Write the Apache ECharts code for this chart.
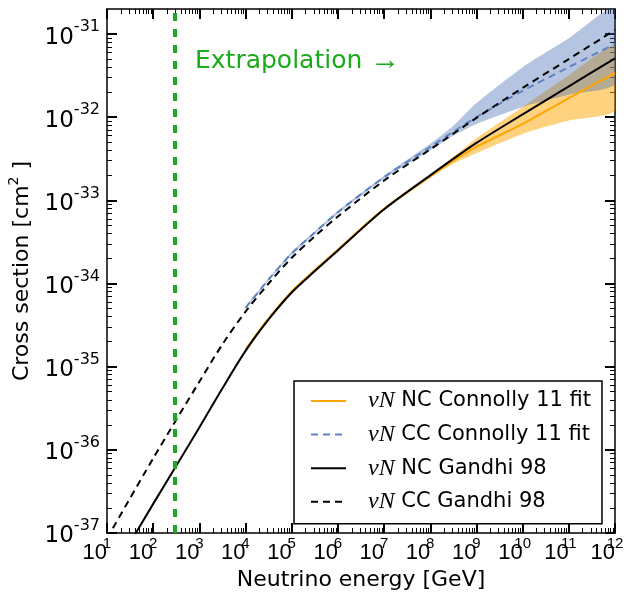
<!DOCTYPE html>
<html>
<head>
<meta charset="utf-8">
<script src="https://cdn.jsdelivr.net/npm/echarts@6/dist/echarts.min.js"></script>
<style>
  html, body { margin: 0; padding: 0; background: #fff; }
  #chart { width: 639px; height: 595px; }
</style>
</head>
<body>
<div id="chart"></div>
<script>
  // neutrino energy [GeV]
  const energyGandhi = [10, 100, 1000, 3162, 1e4, 31623, 1e5, 316228, 1e6, 1e7, 1e8, 1e9, 1e10, 1e11, 1e12];
  // cross sections [cm^2]
  const ncGandhi = [2.6e-38, 2.24e-37, 1.86e-36, 5.5e-36, 1.55e-35, 3.7e-35, 7.8e-35, 1.41e-34, 2.5e-34, 7.8e-34, 2.0e-33, 4.9e-33, 1.08e-32, 2.35e-32, 5.1e-32];
  const ccGandhi = [8.6e-38, 7.9e-37, 6.6e-36, 1.86e-35, 4.6e-35, 1.0e-34, 2.04e-34, 3.7e-34, 6.4e-34, 1.73e-33, 4.1e-33, 9.8e-33, 2.25e-32, 5.0e-32, 1.12e-31];

  const energyConnolly = [1e4, 31623, 1e5, 316228, 1e6, 1e7, 1e8, 3.16e8, 1e9, 1e10, 1e11, 1e12];
  const ncConnolly   = [1.6e-35, 3.8e-35, 8.0e-35, 1.45e-34, 2.55e-34, 7.9e-34, 1.95e-33, 3.0e-33, 4.4e-33, 8.3e-33, 1.7e-32, 3.4e-32];
  const ncConnollyLo = [1.53e-35, 3.65e-35, 7.7e-35, 1.39e-34, 2.45e-34, 7.6e-34, 1.85e-33, 2.75e-33, 3.7e-33, 6.3e-33, 9.1e-33, 1.2e-32];
  const ncConnollyHi = [1.67e-35, 3.95e-35, 8.4e-35, 1.5e-34, 2.65e-34, 8.2e-34, 2.05e-33, 3.35e-33, 5.6e-33, 1.33e-32, 3.2e-32, 7.2e-32];
  const ccConnolly   = [5.1e-35, 1.12e-34, 2.3e-34, 4.1e-34, 7.2e-34, 1.9e-33, 4.4e-33, 6.7e-33, 1.0e-32, 2.07e-32, 4.0e-32, 7.6e-32];
  const ccConnollyLo = [4.95e-35, 1.08e-34, 2.2e-34, 3.95e-34, 6.9e-34, 1.82e-33, 4.0e-33, 6.0e-33, 8.3e-33, 1.33e-32, 1.86e-32, 2.5e-32];
  const ccConnollyHi = [5.3e-35, 1.16e-34, 2.4e-34, 4.25e-34, 7.5e-34, 1.98e-33, 4.8e-33, 7.9e-33, 1.48e-32, 4.0e-32, 8.9e-32, 2.1e-31];

  const energyCut = 300; // start of extrapolation

  const xTicks = [10, 100, 1e3, 1e4, 1e5, 1e6, 1e7, 1e8, 1e9, 1e10, 1e11, 1e12];
  const yTicks = [1e-37, 1e-36, 1e-35, 1e-34, 1e-33, 1e-32, 1e-31];
  const yMin = 1e-37, yMax = 2e-31;

  // y is plotted in units of 1e-37 cm^2 (keeps the log scale away from tiny floats)
  const Y_UNIT = 1e-37, Y_EXP = -37;
  const sc = v => v / Y_UNIT;

  // minor ticks 2..9 x 10^n
  const xMinor = [], yMinor = [];
  for (let e = 1; e < 12; e++) for (let m = 2; m < 10; m++) xMinor.push(m * Math.pow(10, e));
  for (let e = 0; e < 6; e++) for (let m = 2; m < 10; m++) yMinor.push(m * Math.pow(10, e));

  const FONT = 'DejaVu Sans';
  const FONT_X = 'Liberation Sans';
  const green = '#1aab1a';

  const pairs = (xs, ys) => xs.map((x, i) => [x, sc(ys[i])]);

  function band(name, xs, lo, hi, color) {
    return {
      type: 'custom', name: name, silent: true, z: 1,
      data: xs.map((x, i) => [x, sc(lo[i]), sc(hi[i])]),
      encode: { x: 0, y: [1, 2] },
      renderItem: function (params, api) {
        if (params.dataIndex !== 0) return;
        const up = xs.map((x, i) => api.coord([x, sc(hi[i])]));
        const dn = xs.map((x, i) => api.coord([x, sc(lo[i])])).reverse();
        const cs = params.coordSys;
        return {
          type: 'polygon',
          shape: { points: up.concat(dn), smooth: 0.2 },
          style: { fill: color },
          clipPath: { type: 'rect', shape: { x: cs.x, y: cs.y, width: cs.width, height: cs.height } }
        };
      }
    };
  }

  function line(name, xs, ys, color, dashed, z) {
    return {
      type: 'line', name: name, data: pairs(xs, ys), symbol: 'none', smooth: 0.3, z: z,
      lineStyle: { color: color, width: 2, type: dashed ? [7, 5] : 'solid' },
      itemStyle: { color: color }
    };
  }

  const logAxis = (pos, range, major, minor, isMajor) => ({
    type: 'log', logBase: 10, position: pos, min: range[0], max: range[1],
    splitLine: { show: false },
    axisLine: { show: isMajor, onZero: false, lineStyle: { color: '#000', width: 1.5 } },
    axisTick: {
      show: true, inside: true, length: isMajor ? 10 : 5,
      lineStyle: { color: '#000', width: isMajor ? 2 : 1 },
      customValues: isMajor ? major : minor
    },
    axisLabel: { show: false }
  });

  const xRange = [10, 1e12], yRange = [sc(yMin), sc(yMax)];
  const yMajor = yTicks.map(sc);

  const xAxis = [
    logAxis('bottom', xRange, xTicks, xMinor, true),
    logAxis('bottom', xRange, xTicks, xMinor, false),
    logAxis('top', xRange, xTicks, xMinor, true),
    logAxis('top', xRange, xTicks, xMinor, false)
  ];
  xAxis[0].axisLabel = {
    show: true, customValues: xTicks, align: 'right', margin: 3,
    formatter: v => '{b|10}{s|' + Math.round(Math.log10(v)) + '}',
    rich: {
      b: { fontFamily: FONT_X, fontSize: 22, color: '#000', lineHeight: 28, verticalAlign: 'bottom' },
      s: { fontFamily: FONT_X, fontSize: 15, color: '#000', lineHeight: 14, verticalAlign: 'top', width: 0, align: 'left' }
    }
  };
  xAxis[0].name = 'Neutrino energy [GeV]';
  xAxis[0].nameLocation = 'middle';
  xAxis[0].nameGap = 35;
  xAxis[0].nameTextStyle = { fontFamily: FONT, fontSize: 22, color: '#000' };

  const yAxis = [
    logAxis('left', yRange, yMajor, yMinor, true),
    logAxis('left', yRange, yMajor, yMinor, false),
    logAxis('right', yRange, yMajor, yMinor, true),
    logAxis('right', yRange, yMajor, yMinor, false)
  ];
  yAxis[0].axisLabel = {
    show: true, customValues: yMajor, margin: 7,
    formatter: v => '{b|10}{s|' + (Math.round(Math.log10(v)) + Y_EXP) + '}',
    rich: {
      b: { fontFamily: FONT, fontSize: 23, color: '#000', lineHeight: 30, verticalAlign: 'bottom' },
      s: { fontFamily: FONT, fontSize: 16, color: '#000', lineHeight: 14, verticalAlign: 'top' }
    }
  };
  yAxis[0].name = '{t|Cross section [cm}{s|2}{t| ]}';
  yAxis[0].nameLocation = 'middle';
  yAxis[0].nameRotate = 90;
  yAxis[0].nameGap = 71;
  yAxis[0].nameTextStyle = {
    rich: {
      t: { fontFamily: FONT, fontSize: 22, color: '#000', lineHeight: 26, verticalAlign: 'bottom' },
      s: { fontFamily: FONT, fontSize: 14, color: '#000', lineHeight: 12, verticalAlign: 'top' }
    }
  };

  const names = ['νN NC Connolly 11 fit', 'νN CC Connolly 11 fit', 'νN NC Gandhi 98', 'νN CC Gandhi 98'];

  const ccGandhiSeries = line(names[3], energyGandhi, ccGandhi, '#000', true, 6);
  ccGandhiSeries.markLine = {
    silent: true, symbol: ['none', 'none'], z: 8,
    label: { show: false },
    lineStyle: { color: green, width: 4, type: [8, 8] },
    data: [{ xAxis: energyCut }]
  };

  const option = {
    animation: false,
    backgroundColor: '#fff',
    grid: { left: 107, right: 24, top: 9, bottom: 62, outerBoundsMode: 'none' },
    xAxis: xAxis,
    yAxis: yAxis,
    legend: {
      data: names, orient: 'vertical', left: 294, top: 381,
      padding: [8, 11, 10, 16], itemGap: 9.6, itemWidth: 35, itemHeight: 14,
      borderColor: '#000', borderWidth: 1.5, backgroundColor: '#fff',
      selectedMode: false,
      itemStyle: { opacity: 0 },
      textStyle: {
        fontFamily: FONT, fontSize: 21, color: '#000', lineHeight: 22,
        rich: {
          sp: { width: 17 },
          m: { fontFamily: 'Liberation Serif', fontStyle: 'italic', fontSize: 24, color: '#000', lineHeight: 22 },
          t: { fontFamily: FONT, fontSize: 21, color: '#000', lineHeight: 22 }
        }
      },
      formatter: n => '{sp|}{m|νN}{t| ' + n.slice(3) + '}'
    },
    graphic: [{
      type: 'text', x: 195, y: 61, z: 10,
      style: {
        text: '{t|Extrapolation }{a|→}', fill: green, verticalAlign: 'middle', textVerticalAlign: 'middle',
        rich: {
          t: { fontFamily: FONT, fontSize: 25, fill: green, color: green },
          a: { fontFamily: FONT_X, fontSize: 30, fill: green, color: green }
        }
      }
    }],
    series: [
      band('ncBand', energyConnolly, ncConnollyLo, ncConnollyHi, 'rgba(255,165,0,0.5)'),
      band('ccBand', energyConnolly, ccConnollyLo, ccConnollyHi, 'rgba(70,110,180,0.4)'),
      line(names[0], energyConnolly, ncConnolly, '#ffa500', false, 3),
      line(names[1], energyConnolly, ccConnolly, '#5f84c2', true, 4),
      line(names[2], energyGandhi, ncGandhi, '#000', false, 5),
      ccGandhiSeries
    ]
  };

  const chart = echarts.init(document.getElementById('chart'), null, { renderer: 'canvas' });
  chart.setOption(option);
</script>
</body>
</html>
